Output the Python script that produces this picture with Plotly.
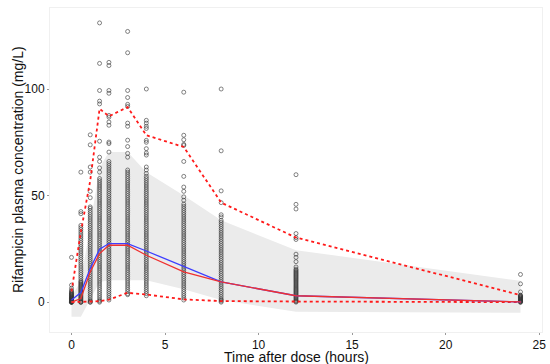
import plotly.graph_objects as go

# nominal sampling times (hours)
times = [0, 0.5, 1, 1.5, 2, 3, 4, 6, 8, 12, 24]

# observed concentrations (mg/L) per sampling time
obs_t0 = [21, 8, 6.5, 5.5, 5, 4.5, 4.2, 3.8, 3.6, 3.3, 3, 2.7, 2.4, 2.2, 2, 1.8, 1.6, 1.4, 1.2, 1,
          0.8, 0.6, 0.5, 0.4, 0.3, 0.2, 0.1, 0, 0, 0, 0]
obs_t05 = [61, 42.5, 41.5, 36, 35, 34, 33, 32, 31, 30, 29, 28, 27, 26, 25, 24, 23, 22, 21, 20, 19, 18,
           17, 16, 15, 14, 13, 12, 11, 10, 9.5, 9, 8.5, 8, 7.5, 7, 6.5, 6, 5.5, 5, 4.5, 4, 3.5, 3,
           2.5, 2, 1.5, 1, 0.5, 0, 0, 0]
obs_t1 = [78.5, 73.8, 63.4, 61, 52, 49, 44.7, 44, 43, 42, 41, 40, 39, 38, 37, 36, 35, 34, 33, 32, 31,
          30, 29, 28, 27, 26, 25, 24, 23, 22, 21, 20, 19, 18, 17, 16, 15, 14, 13, 12, 11, 10, 9, 8,
          7, 6, 5, 4, 3, 2, 1, 0.5, 0, 0]
obs_t15 = [131, 112, 99.3, 94.3, 93, 75.5, 68, 66, 63, 61, 58, 57, 56, 55, 54, 53, 52, 51, 50, 49, 48,
           47, 46, 45, 44, 43, 42, 41, 40, 39, 38, 37, 36, 35, 34, 33, 32, 31, 30, 29, 28, 27, 26,
           25, 24, 23, 22, 21, 20, 19, 18, 17, 16, 15, 14, 13, 12, 11, 10, 9, 8, 7, 6, 5, 4, 3, 2,
           1, 0.5, 0]
obs_t2 = [112.5, 111, 99.3, 98, 87.6, 86.8, 84.5, 83, 75.1, 74.4, 70.4, 66, 65, 64, 63, 62, 61, 60,
          59, 58, 57, 56, 55, 54, 53, 52, 51, 50, 49, 48, 47, 46, 45, 44, 43, 42, 41, 40, 39, 38,
          37, 36, 35, 34, 33, 32, 31, 30, 29, 28, 27, 26, 25, 24, 23, 22, 21, 20, 19, 18, 17, 16,
          15, 14, 13, 12, 11, 10, 9, 8, 7, 6, 5, 4, 3, 2, 1]
obs_t3 = [127, 117, 99.3, 96, 92.8, 91.8, 84, 82.5, 76, 73, 69.8, 68, 62, 61, 60, 59, 58, 57, 56, 55,
          54, 53, 52, 51, 50, 49, 48, 47, 46, 45, 44, 43, 42, 41, 40, 39, 38, 37, 36, 35, 34, 33,
          32, 31, 30, 29, 28, 27, 26, 25, 24, 23, 22, 21, 20, 19, 18, 17, 16, 15, 14, 13, 12, 11,
          10, 9, 8, 7, 6, 5, 4, 3.5]
obs_t4 = [100, 85.3, 84, 82.5, 81.5, 75.9, 75, 72, 70, 69, 63.4, 62, 60.4, 59, 58, 57, 56, 55, 54, 53,
          52, 51, 50, 49, 48, 47, 46, 45, 44, 43, 42, 41, 40, 39, 38, 37, 36, 35, 34, 33, 32, 31,
          30, 29, 28, 27, 26, 25, 24, 23, 22, 21, 20, 19, 18, 17, 16, 15, 14, 13, 12, 11, 10, 9,
          8, 7, 6, 5, 4, 3]
obs_t6 = [98.5, 78.3, 76.2, 74, 73.5, 66, 59, 54, 52, 49.4, 47.8, 46, 45, 44, 43, 42, 41, 40, 39, 38,
          37, 36, 35, 34, 33, 32, 31, 30, 29, 28, 27, 26, 25, 24, 23, 22, 21, 20, 19, 18, 17, 16,
          15, 14, 13, 12, 11, 10, 9, 8, 7, 6, 5, 4, 3, 2, 1]
obs_t8 = [100, 71, 52.2, 46.7, 41, 40, 38.4, 37.5, 36.5, 35.5, 34.5, 33.5, 32.5, 31.5, 30.5, 29.5,
          28.5, 27.5, 26.5, 25.5, 24.5, 23.5, 22.5, 21.5, 20.5, 19.5, 18.5, 17.5, 16.5, 15.5, 14.5,
          13.5, 12.5, 11.5, 10.5, 9.5, 8.5, 7.5, 6.5, 5.5, 4.5, 3.5, 2.5, 1.5, 1, 0.5, 0]
obs_t12 = [59.8, 45.9, 43.7, 32.2, 30.3, 29.4, 22.5, 21, 19, 16.5, 15.5, 15, 14.5, 14, 13.5, 13, 12.5,
           12, 11.5, 11, 10.5, 10, 9.5, 9, 8.5, 8, 7.5, 7, 6.5, 6, 5.5, 5, 4.5, 4, 3.5, 3, 2.5, 2,
           1.5, 1, 0.6, 0.3, 0]
obs_t24 = [13, 8.6, 4.8, 3.3, 3, 2.8, 2.5, 2.3, 2, 1.8, 1.5, 1.3, 1, 0.8, 0.6, 0.4, 0.2, 0, 0]

observed = [obs_t0, obs_t05, obs_t1, obs_t15, obs_t2, obs_t3, obs_t4, obs_t6, obs_t8, obs_t12, obs_t24]

# summary curves
obs_median = [1.0, 4.5, 15.8, 24.8, 27.5, 27.5, 24.0, 16.9, 9.5, 3.0, 0.1]
pred_median = [0.0, 1.7, 14.2, 22.8, 26.7, 26.7, 22.0, 14.2, 9.5, 3.0, 0.1]
obs_p95 = [5, 33, 57, 90.7, 87.2, 91.5, 78.3, 72.8, 46.7, 30.3, 3.3]
obs_p5 = [0, 0, 0.3, 0.5, 1.2, 4.4, 3.6, 1.3, 0.5, 0.3, 0]
pi_upper = [2.5, 10, 36, 63, 70.4, 70.4, 61, 50, 38.4, 24.4, 10]
pi_lower = [-6.9, -6.9, 1, 9.5, 10.3, 10.3, 10.3, 6.0, 1, -4.5, -5]

x_title = "Time after dose (hours)"
y_title = "Rifampicin plasma concentration (mg/L)"

fig = go.Figure()

# prediction interval band
fig.add_trace(go.Scatter(x=times + times[::-1], y=pi_upper + pi_lower[::-1],
                         fill="toself", fillcolor="#ebebeb", line=dict(width=0),
                         mode="lines", hoverinfo="skip", showlegend=False))

# observations
px, py = [], []
for t, vals in zip(times, observed):
    px += [t] * len(vals)
    py += vals
fig.add_trace(go.Scatter(x=px, y=py, mode="markers",
                         marker=dict(symbol="circle-open", size=4,
                                     color="rgba(50,50,50,0.6)", line=dict(width=1)),
                         showlegend=False))

# percentiles
for ys in (obs_p95, obs_p5):
    fig.add_trace(go.Scatter(x=times, y=ys, mode="lines",
                             line=dict(color="#ff1a1a", width=1.8, dash="dot"),
                             showlegend=False))

fig.add_trace(go.Scatter(x=times, y=obs_median, mode="lines",
                         line=dict(color="#3d3dff", width=1.3), showlegend=False))
fig.add_trace(go.Scatter(x=times, y=pred_median, mode="lines",
                         line=dict(color="#f03030", width=1.3), showlegend=False))

fig.update_layout(
    width=550, height=364,
    margin=dict(l=50, r=8, t=8, b=32),
    plot_bgcolor="white", paper_bgcolor="white",
    font=dict(family="Liberation Sans, Arial, sans-serif", color="#111"),
    annotations=[
        dict(text=x_title, xref="paper", yref="paper", x=0.5, y=-0.078,
             xanchor="center", yanchor="middle", showarrow=False, borderpad=0,
             font=dict(size=14)),
        dict(text=y_title, xref="paper", yref="paper", x=-0.065, y=0.5, textangle=-90,
             xanchor="center", yanchor="middle", showarrow=False, borderpad=0,
             font=dict(size=14)),
    ],
)
fig.update_xaxes(range=[-1.15, 25.15], tickvals=[0, 5, 10, 15, 20, 25],
                 automargin=False,
                 showgrid=False, zeroline=False,
                 showline=True, linecolor="#f0f0f0", linewidth=1, mirror=True,
                 ticks="outside", ticklen=2, tickcolor="#999",
                 tickfont=dict(size=12, color="#111"))
fig.update_yaxes(range=[-14, 138], tickvals=[0, 50, 100],
                 automargin=False,
                 showgrid=False, zeroline=False,
                 showline=True, linecolor="#f0f0f0", linewidth=1, mirror=True,
                 ticks="outside", ticklen=2, tickcolor="#999",
                 tickfont=dict(size=12, color="#111"))

fig.write_html("out.html", config={"displayModeBar": False},
               post_script="document.body.style.margin='0';document.body.style.overflow='hidden';")
